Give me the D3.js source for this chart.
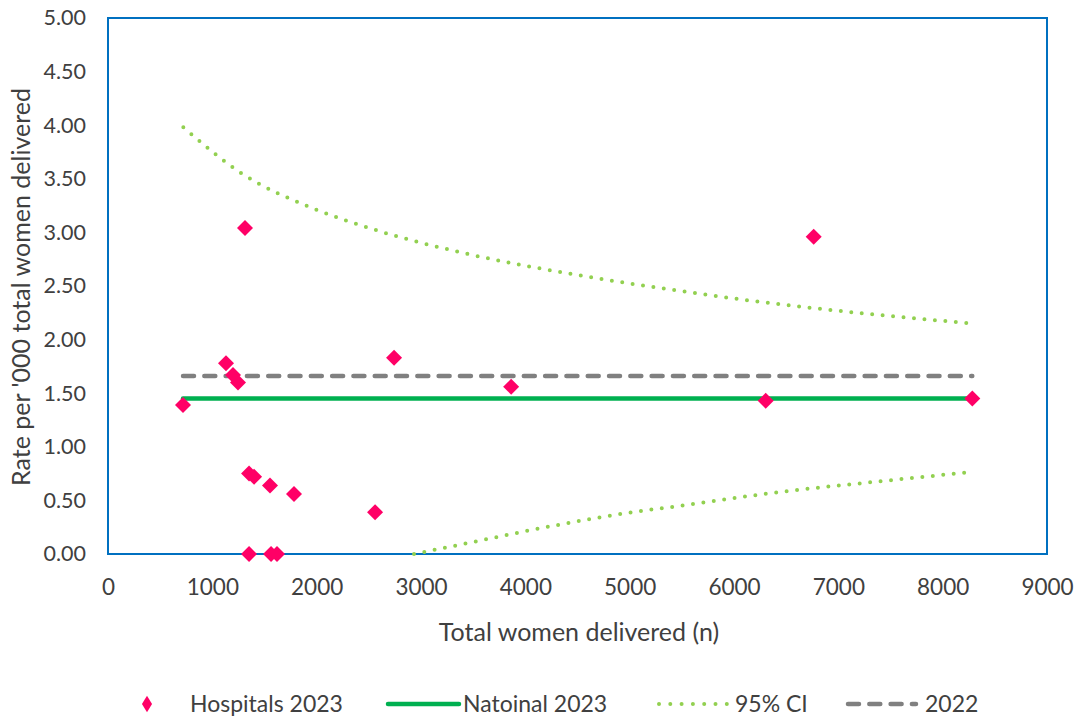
<!DOCTYPE html>
<html>
<head>
<meta charset="utf-8">
<script src="https://cdn.jsdelivr.net/npm/d3@7"></script>
<style>
  html, body { margin: 0; padding: 0; background: #fff; }
  svg { display: block; font-family: Lato, "Open Sans", sans-serif; }
</style>
</head>
<body>
<svg id="chart" width="1082" height="719"></svg>
<script>
// Hospital deliveries (n) and rate per 1000 women delivered
const hospitalN    = [719, 1131, 1198, 1246, 1313, 1352, 1400, 1352, 1553, 1563, 1620, 1783, 2560, 2742, 3864, 6304, 6764, 8284];
const hospitalRate = [1.39, 1.78, 1.67, 1.60, 3.04, 0.75, 0.72, 0.00, 0.64, 0.00, 0.00, 0.56, 0.39, 1.83, 1.56, 1.43, 2.96, 1.45];

// National reference lines
const nationalRange = [719, 8284];
const national2023 = 1.45;
const rate2022 = 1.66;

// 95% control limits
const upperN  = [722, 1297, 1952, 2540, 3444, 4454, 5370, 6185, 6703, 8284];
const upperCI = [3.98, 3.54, 3.23, 3.03, 2.80, 2.61, 2.47, 2.36, 2.30, 2.15];
const lowerN  = [2933, 3441, 4144, 4958, 5566, 6291, 7416, 8284];
const lowerCI = [0.00, 0.10, 0.24, 0.38, 0.46, 0.56, 0.68, 0.765];

const xTicks = [0, 1000, 2000, 3000, 4000, 5000, 6000, 7000, 8000, 9000];
const yTicks = [0, 0.5, 1, 1.5, 2, 2.5, 3, 3.5, 4, 4.5, 5];

const svg = d3.select("#chart");
const x = d3.scaleLinear().domain([0, 9000]).range([108, 1047]);
const y = d3.scaleLinear().domain([0, 5]).range([554, 18]);

const textColor = "#404040";

// Plot area frame
svg.append("rect")
  .attr("x", x(0)).attr("y", y(5))
  .attr("width", x(9000) - x(0)).attr("height", y(0) - y(5))
  .attr("fill", "none").attr("stroke", "#0070C0").attr("stroke-width", 2);

// Axes (labels only)
const xAxis = svg.append("g").attr("transform", `translate(0,${y(0)})`)
  .call(d3.axisBottom(x).tickValues(xTicks).tickSize(0).tickPadding(25).tickFormat(d3.format("d")));
const yAxis = svg.append("g").attr("transform", `translate(${x(0)},0)`)
  .call(d3.axisLeft(y).tickValues(yTicks).tickSize(0).tickPadding(22).tickFormat(d3.format(".2f")));
[xAxis, yAxis].forEach(g => {
  g.select(".domain").remove();
  g.selectAll("text").attr("font-size", 21.5).attr("fill", textColor).attr("font-family", "Lato, sans-serif");
});
xAxis.selectAll("text").attr("font-size", 22.5);

// Axis titles
svg.append("text")
  .attr("x", 579).attr("y", 641).attr("text-anchor", "middle")
  .attr("font-size", 25).attr("fill", textColor)
  .text("Total women delivered (n)");
svg.append("text")
  .attr("transform", `translate(30,287) rotate(-90)`).attr("text-anchor", "middle")
  .attr("font-size", 25).attr("fill", textColor)
  .text("Rate per '000 total women delivered");

const line = d3.line().x(d => x(d[0])).y(d => y(d[1]));
const curve = d3.line().x(d => x(d[0])).y(d => y(d[1])).curve(d3.curveMonotoneX);

// 95% CI curves
const ciStyle = sel => sel.attr("fill", "none").attr("stroke", "#92D050")
  .attr("stroke-width", 4).attr("stroke-linecap", "round").attr("stroke-dasharray", "0,10.5");
svg.append("path").datum(d3.zip(upperN, upperCI)).attr("d", curve).call(ciStyle);
svg.append("path").datum(d3.zip(lowerN, lowerCI)).attr("d", curve).call(ciStyle);

// 2022 rate
svg.append("path").datum(nationalRange.map(n => [n, rate2022])).attr("d", line)
  .attr("fill", "none").attr("stroke", "#808080").attr("stroke-width", 4.5)
  .attr("stroke-linecap", "round").attr("stroke-dasharray", "11,10.3");

// National 2023 rate
svg.append("path").datum(nationalRange.map(n => [n, national2023])).attr("d", line)
  .attr("fill", "none").attr("stroke", "#00B050").attr("stroke-width", 4.5)
  .attr("stroke-linecap", "round");

// Hospitals (diamond markers)
svg.append("g").selectAll("path")
  .data(d3.zip(hospitalN, hospitalRate))
  .join("path")
  .attr("d", d3.symbol().type(d3.symbolSquare).size(128))
  .attr("transform", d => `translate(${x(d[0])},${y(d[1])}) rotate(45)`)
  .attr("fill", "#FF0066");

// Legend
const ly = 704;
const legend = svg.append("g");
legend.append("path").attr("d", d3.symbol().type(d3.symbolSquare).size(80))
  .attr("transform", `translate(147,${ly}) scale(0.8,1.3) rotate(45)`).attr("fill", "#FF0066");
legend.append("text").attr("x", 190).attr("y", ly + 8).text("Hospitals 2023");
legend.append("line").attr("x1", 388).attr("x2", 459).attr("y1", ly).attr("y2", ly)
  .attr("stroke", "#00B050").attr("stroke-width", 4.5).attr("stroke-linecap", "round");
legend.append("text").attr("x", 463).attr("y", ly + 8).text("Natoinal 2023");
legend.append("line").attr("x1", 659).attr("x2", 727).attr("y1", ly).attr("y2", ly)
  .attr("stroke", "#92D050").attr("stroke-width", 4).attr("stroke-linecap", "round")
  .attr("stroke-dasharray", "0,11.3");
legend.append("text").attr("x", 735).attr("y", ly + 8).text("95% CI");
legend.append("line").attr("x1", 848).attr("x2", 916).attr("y1", ly).attr("y2", ly)
  .attr("stroke", "#808080").attr("stroke-width", 4.5).attr("stroke-linecap", "round")
  .attr("stroke-dasharray", "11,10.3");
legend.append("text").attr("x", 925).attr("y", ly + 8).text("2022");
legend.selectAll("text").attr("font-size", 23).attr("fill", textColor);
</script>
</body>
</html>
